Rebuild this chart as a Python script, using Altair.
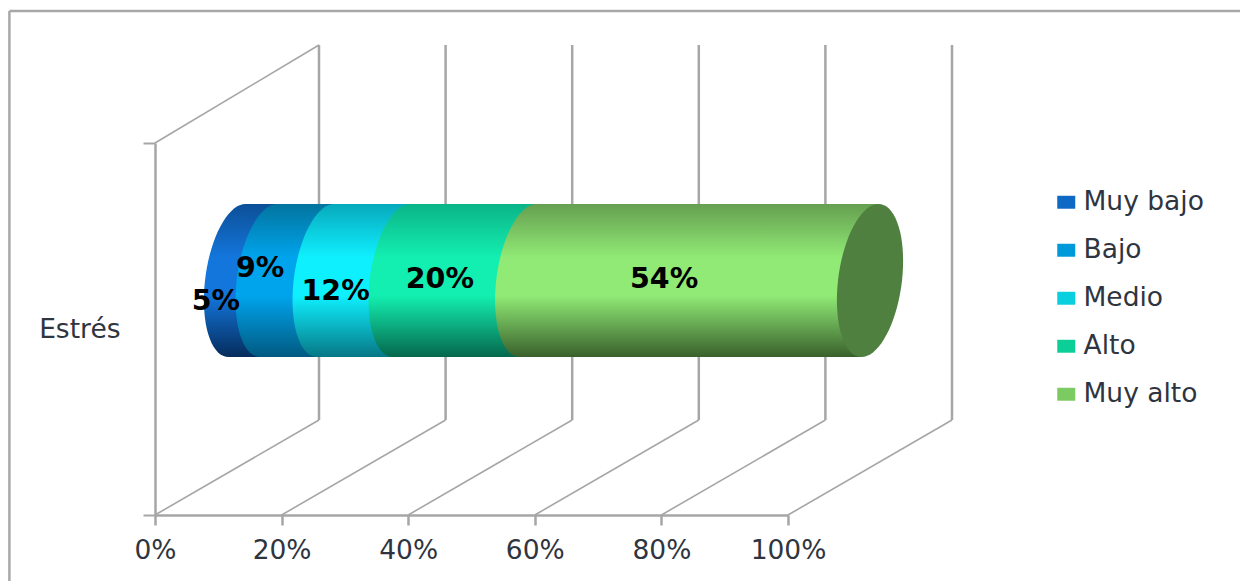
import math
import altair as alt
import pandas as pd

# ---- values ----
grupo = ["Estrés"]
categorias = ["Muy bajo", "Bajo", "Medio", "Alto", "Muy alto"]
valores = [5, 9, 12, 20, 54]
ticks_x = [0, 20, 40, 60, 80, 100]
colores_leyenda = ["#0E69C4", "#0099D9", "#09CFDF", "#0CCF97", "#7CCA62"]

# ---- styling / layout ----
W, H = 633, 372                    # plot area (front wall)
PX = W / 100                       # pixels per percent
DEPTH_X = 164 / PX                 # 3-D depth in percent units
FLOOR_Y = 95 / H                   # floor depth
TOP_BACK = (515 - 45) / H
TOP_DIAG = 98 / H
CYL_BOTTOM = (515 - 357) / H
CYL_TOP = (515 - 204) / H
CYL_MID = (CYL_BOTTOM + CYL_TOP) / 2
SHIFT = DEPTH_X / 2
A, B, C = 32, 8.5, 76.5
TILT = B / PX
GRID = "#A6A6A6"
TXT = "#2F3540"
FONT = "DejaVu Sans"

sombras = [
    ("#0C4F97", "#1376DC", "#052C5B"),
    ("#02749F", "#00A4EC", "#015980"),
    ("#07A9BC", "#0FF0FF", "#067785"),
    ("#0BB488", "#13EFB0", "#05674C"),
    ("#659F50", "#90EA75", "#39602C"),
]
dx_etq = [-37, -37, -28, -25, -35]
dy_etq = [20, -13, 10, -2, -2]


def degradado(c):
    top, mid, bot = c
    return alt.LinearGradient(
        gradient="linear", x1=0, x2=0, y1=0, y2=1,
        stops=[
            alt.GradientStop(color=top, offset=0),
            alt.GradientStop(color=mid, offset=0.35),
            alt.GradientStop(color=mid, offset=0.6),
            alt.GradientStop(color=bot, offset=1),
        ],
    )


def punto(t):
    r = math.radians(t)
    return A * math.cos(r) - B * math.sin(r), C * math.sin(r)


arco_izq = [punto(t) for t in range(270, 89, -5)]
arco_tot = [punto(t) for t in range(0, 360, 5)]


def trazo(pts):
    return "M" + " L".join(f"{x:.2f},{y:.2f}" for x, y in pts) + " Z"


TAPA_ENTRADA = trazo(arco_izq + [(B + 1.5, C), (B + 1.5, -C)])
TAPA_SALIDA = trazo([(-B - 1.5, -C), (B, -C), (-B - 1.5, C)])
TAPA_FINAL = trazo(arco_tot)

xs = alt.Scale(domain=[0, 100], nice=False, zero=False)
ys = alt.Scale(domain=[0, 1], nice=False, zero=False)

EJE_X = alt.Axis(
    values=ticks_x, labelExpr="datum.value + '%'", grid=False, title=None,
    domainColor=GRID, domainWidth=2.5, tickColor=GRID, tickWidth=2.5, tickSize=10,
    labelFont=FONT, labelFontSize=26.5, labelColor=TXT, labelPadding=12,
    labelFlush=False, labelOverlap=False)


def X(f):
    return alt.X(f, type="quantitative", scale=xs, axis=EJE_X)


def Y(f):
    return alt.Y(f, type="quantitative", scale=ys, axis=None)


inicio = [sum(valores[:i]) for i in range(len(valores))]
fin = [sum(valores[: i + 1]) for i in range(len(valores))]
seg = pd.DataFrame({
    "cat": categorias,
    "x1": [v + SHIFT + TILT for v in inicio],
    "x2": [v + SHIFT - TILT for v in fin],
    "ini": [v + SHIFT for v in inicio],
    "fin": [v + SHIFT for v in fin],
    "medio": [(a + b) / 2 + SHIFT for a, b in zip(inicio, fin)],
    "y1": CYL_BOTTOM, "y2": CYL_TOP, "ym": CYL_MID,
    "et": [f"{v}%" for v in valores],
})
gr = pd.DataFrame({"t": ticks_x})
gr["t2"] = gr.t + DEPTH_X
gr["y0"] = 0.0
gr["y1"] = FLOOR_Y
gr["y2"] = TOP_BACK

# axes: real x axis and band y axis
ejes = alt.Chart(pd.DataFrame({"g": grupo, "x": [0]})).mark_rule(opacity=0).encode(
    x=X("x"),
    y=alt.Y("g:N", title=None, scale=alt.Scale(paddingInner=0, paddingOuter=0), axis=alt.Axis(
        tickBand="extent", grid=False,
        domainColor=GRID, domainWidth=2.5, tickColor=GRID, tickWidth=2, tickSize=12,
        labelFont=FONT, labelFontSize=26.5, labelColor=TXT, labelPadding=23)),
)

# frame
marco_sup = alt.Chart(pd.DataFrame({"a": [-23], "b": [175], "y": [1.355]})).mark_rule(
    color="#A8A8A8", strokeWidth=2.5).encode(x=X("a"), x2="b", y=Y("y"))
marco_izq = alt.Chart(pd.DataFrame({"a": [-23], "y": [-0.2], "y2": [1.355]})).mark_rule(
    color="#A8A8A8", strokeWidth=2.5).encode(x=X("a"), y=Y("y"), y2="y2")

# 3-D floor, back wall, side wall
diag_suelo = alt.Chart(gr).mark_rule(color=GRID, strokeWidth=1.6).encode(
    x=X("t"), x2="t2", y=Y("y0"), y2="y1")
pared_fondo = alt.Chart(gr).mark_rule(color=GRID, strokeWidth=2.5).encode(
    x=X("t2"), y=Y("y1"), y2="y2")
diag_sup = alt.Chart(pd.DataFrame({"a": [0], "b": [DEPTH_X], "y": [1.0], "y2": [1 + TOP_DIAG]})).mark_rule(
    color=GRID, strokeWidth=1.6).encode(x=X("a"), x2="b", y=Y("y"), y2="y2")

# base bars carry the legend, gradient layers go on top
base = alt.Chart(seg).mark_rect().encode(
    x=X("x1"), x2="x2", y=Y("y1"), y2="y2",
    color=alt.Color("cat:N", scale=alt.Scale(domain=categorias, range=colores_leyenda), legend=alt.Legend(
        title=None, orient="none", legendX=898, legendY=46,
        symbolType="M-1,-0.72 L1,-0.72 L1,0.72 L-1,0.72 Z", symbolSize=324, symbolStrokeWidth=0,
        labelFont=FONT, labelFontSize=26.5, labelColor=TXT, labelOffset=4, rowPadding=21)),
)

capas = [ejes, marco_sup, marco_izq, diag_suelo, pared_fondo, diag_sup, base]
for i, c in enumerate(categorias):
    fila = seg[seg.cat == c]
    g = degradado(sombras[i])
    capas.append(alt.Chart(fila).mark_rect(fill=g).encode(x=X("x1"), x2="x2", y=Y("y1"), y2="y2"))
    capas.append(alt.Chart(fila).mark_point(shape=TAPA_ENTRADA, size=4, filled=True, fill=g, opacity=1, strokeWidth=0)
                 .encode(x=X("ini"), y=Y("ym")))
    capas.append(alt.Chart(fila).mark_point(shape=TAPA_SALIDA, size=4, filled=True, fill=g, opacity=1, strokeWidth=0)
                 .encode(x=X("fin"), y=Y("ym")))

capas.append(alt.Chart(seg[seg.cat == categorias[-1]]).mark_point(
    shape=TAPA_FINAL, size=4, filled=True, fill="#4F8040", opacity=1, strokeWidth=0
).encode(x=X("fin"), y=Y("ym")))

for i, c in enumerate(categorias):
    capas.append(alt.Chart(seg[seg.cat == c]).mark_text(
        font=FONT, fontSize=28.5, fontWeight="bold", color="#000000", baseline="middle",
        dx=dx_etq[i], dy=dy_etq[i],
    ).encode(x=X("medio"), y=Y("ym"), text="et:N"))

chart = alt.layer(*capas).resolve_scale(y="independent").properties(
    width=W, height=H, background="white",
    autosize=alt.AutoSizeParams(type="none", contains="content"),
    padding={"left": 147, "top": 135, "right": 452, "bottom": 66},
).configure_view(stroke=None)

chart.save("out.html", embed_options={"renderer": "svg", "actions": False})
